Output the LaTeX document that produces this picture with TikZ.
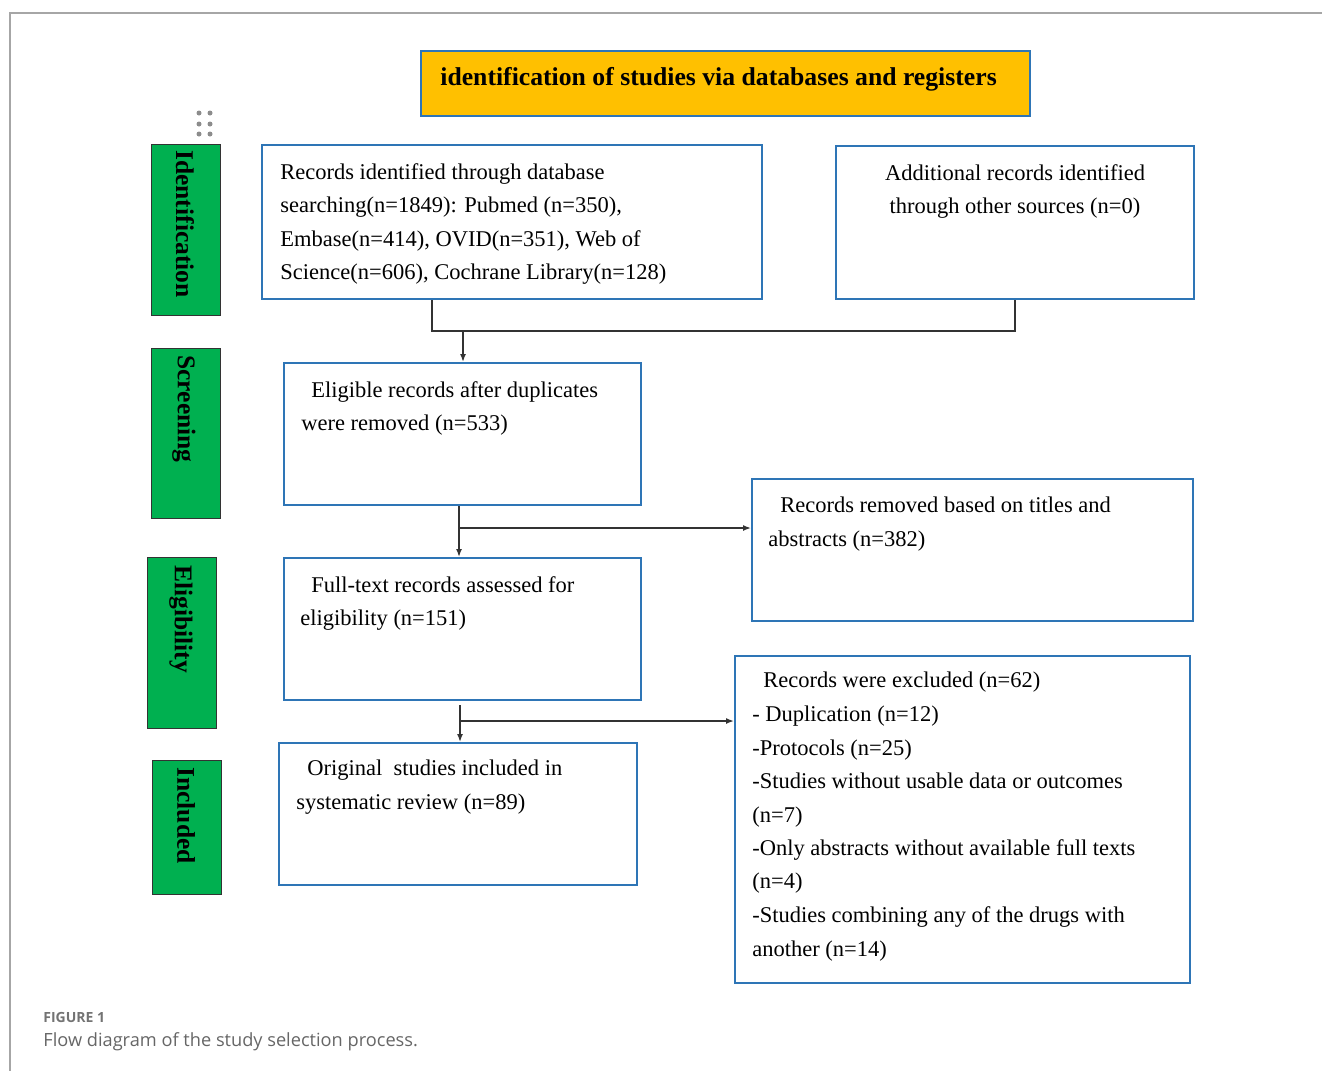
\documentclass[tikz,border=0pt]{standalone}
\usepackage{fontspec}
\setmainfont{Liberation Serif}
\newfontfamily\capfont{Open Sans}
\usepackage{tikz}
\usetikzlibrary{arrows.meta}
\definecolor{boxblue}{HTML}{2E75B6}
\definecolor{stagegreen}{HTML}{00B050}
\definecolor{titleorange}{HTML}{FFC000}
\definecolor{linkgray}{HTML}{333333}
\tikzset{every picture/.style={line width=0.75pt}}
\tikzset{
  bluebox/.style={draw=boxblue, line width=2pt, inner sep=0pt},
  stagebox/.style={draw=black!80, fill=stagegreen, line width=1pt, inner sep=0pt},
  stagetext/.style={rotate=-90, anchor=west, inner sep=0pt, font=\bfseries\fontsize{25.5}{25.5}\selectfont},
  boxtext/.style={anchor=north west, inner sep=0pt, align=left, font=\fontsize{22.5}{33.5}\selectfont},
  link/.style={draw=linkgray, line width=1.5pt},
  arrow/.style={link, -{Latex[length=8pt,width=6pt]}}
}

\begin{document}
\begin{tikzpicture}[x=1pt,y=1pt,yscale=-1,xscale=1]
\useasboundingbox (0,0) rectangle (1322,1071);
% page frame
\draw[black!35, line width=1.5pt] (1322,13) -- (10,13) -- (10,1071);
% title
\node[bluebox, fill=titleorange, minimum width=609pt, minimum height=65pt] (title) at (725.5,83.5) {};
\node[anchor=base west, inner sep=0pt, font=\bfseries\fontsize{25.7}{25.7}\selectfont] (titletext) at (440,85) {identification of studies via databases and registers};
\fill[black!45] (199,113) circle (2.5) (210,113) circle (2.5) (199,124) circle (2.5) (210,124) circle (2.5) (199,134) circle (2.5) (210,134) circle (2.5);
% stages
\node[stagebox, minimum width=69pt, minimum height=171pt] (ident) at (185.5,229.5) {};
\node[stagebox, minimum width=69pt, minimum height=170pt] (screen) at (185.5,433) {};
\node[stagebox, minimum width=69pt, minimum height=171pt] (eligib) at (181.5,642.5) {};
\node[stagebox, minimum width=69pt, minimum height=134pt] (incl) at (186.5,827) {};
\node[stagetext] (identtext) at (185,150) {Identification};
\node[stagetext] (screentext) at (184,355) {Screening};
\node[stagetext] (eligibtext) at (181,565) {Eligibility};
\node[stagetext] (incltext) at (186,767) {Included};
% boxes
\node[bluebox, minimum width=500pt, minimum height=154pt] (recs) at (512,222) {};
\node[bluebox, minimum width=358pt, minimum height=153pt] (addl) at (1015,222.5) {};
\node[bluebox, minimum width=357pt, minimum height=142pt] (elig) at (462.5,434) {};
\node[bluebox, minimum width=441pt, minimum height=142pt] (removed) at (972.5,550) {};
\node[bluebox, minimum width=357pt, minimum height=142pt] (full) at (462.5,629) {};
\node[bluebox, minimum width=455pt, minimum height=327pt] (excl) at (962.5,819.5) {};
\node[bluebox, minimum width=358pt, minimum height=142pt] (orig) at (458,814) {};
\node[boxtext] (recstext) at (280,163) {Records identified through database\\searching(n=1849): Pubmed (n=350),\\Embase(n=414), OVID(n=351), Web of\\Science(n=606), Cochrane Library(n=128)};
\node[boxtext, anchor=north, align=center] (addltext) at (1015,164) {Additional records identified\\through other sources (n=0)};
\node[boxtext] (eligtext) at (301,381) {\hspace*{10pt}Eligible records after duplicates\\were removed (n=533)};
\node[boxtext] (removedtext) at (768,497) {\hspace*{12pt}Records removed based on titles and\\abstracts (n=382)};
\node[boxtext] (fulltext) at (300,576) {\hspace*{11pt}Full-text records assessed for\\eligibility (n=151)};
\node[boxtext] (excltext) at (752,672) {\hspace*{11pt}Records were excluded (n=62)\\- Duplication (n=12)\\-Protocols (n=25)\\-Studies without usable data or outcomes\\(n=7)\\-Only abstracts without available full texts\\(n=4)\\-Studies combining any of the drugs with\\another (n=14)};
\node[boxtext] (origtext) at (296,760) {\hspace*{11pt}Original\ \ studies included in\\systematic review (n=89)};
% connectors
\coordinate (merge) at (463,331);
\coordinate (split1) at (459,528);
\coordinate (start2) at (460,705);
\coordinate (split2) at (460,721);
\draw[link] (recs.south -| 432,0) |- (1015,331) -- (addl.south);
\draw[arrow] (merge) -- (elig.north -| merge);
\draw[arrow] (elig.south -| split1) -- (full.north -| split1);
\draw[arrow] (split1) -- (removed.west |- split1);
\draw[arrow] (start2) -- (orig.north -| start2);
\draw[arrow] (split2) -- (excl.west |- split2);
% caption
\node[anchor=base west, inner sep=0pt, text=black!55, font=\capfont\bfseries\fontsize{14}{14}\selectfont] (figlabel) at (43,1022) {FIGURE 1};
\node[anchor=base west, inner sep=0pt, text=black!60, font=\capfont\fontsize{18.2}{18.2}\selectfont] (caption) at (43,1046) {Flow diagram of the study selection process.};
\end{tikzpicture}
\end{document}
